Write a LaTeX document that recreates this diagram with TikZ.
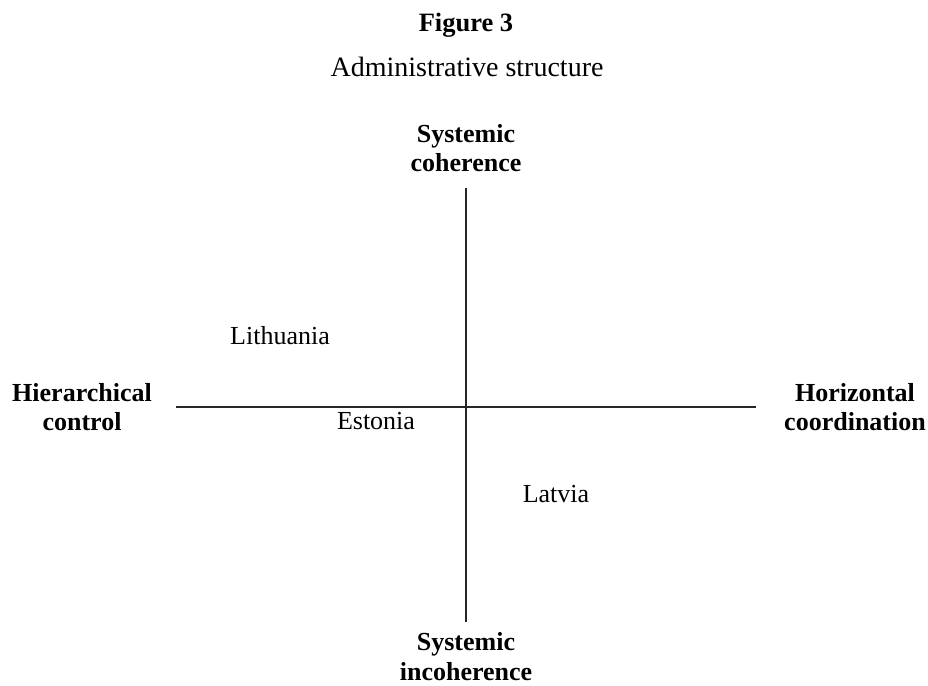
\documentclass[tikz,border=0pt]{standalone}
\usepackage{fontspec}
\setmainfont{Liberation Serif}
\begin{document}
\begin{tikzpicture}[x=1pt,y=-1pt,
  lbl/.style={inner sep=0pt,anchor=base,font=\fontsize{26}{29}\selectfont},
  axlbl/.style={lbl,font=\fontsize{26}{29}\selectfont\bfseries,align=center},
  axis/.style={line width=1.4pt,draw=black!85}]
\useasboundingbox (0,0) rectangle (928,685);
\node[lbl,font=\fontsize{26.5}{29}\selectfont\bfseries] (fig) at (466,32) {Figure 3};
\node[lbl,font=\fontsize{28}{31}\selectfont] (title) at (467,77) {Administrative structure};
\node[axlbl] (top1) at (466,142) {Systemic};
\node[axlbl] (top2) at (466,171) {coherence};
\node[axlbl] (left1) at (82,401) {Hierarchical};
\node[axlbl] (left2) at (82,430) {control};
\node[axlbl] (right1) at (855,401) {Horizontal};
\node[axlbl] (right2) at (855,430) {coordination};
\node[axlbl] (bot1) at (466,650) {Systemic};
\node[axlbl] (bot2) at (466,680) {incoherence};
\coordinate (vt) at (466,188);
\coordinate (vb) at (466,622);
\coordinate (hl) at (176,407);
\coordinate (hr) at (756,407);
\draw[axis] (vt) -- (vb);
\draw[axis] (hl) -- (hr);
\node[lbl] (lit) at (280,344) {Lithuania};
\node[lbl] (est) at (376,429) {Estonia};
\node[lbl] (lat) at (556,502) {Latvia};
\end{tikzpicture}
\end{document}
